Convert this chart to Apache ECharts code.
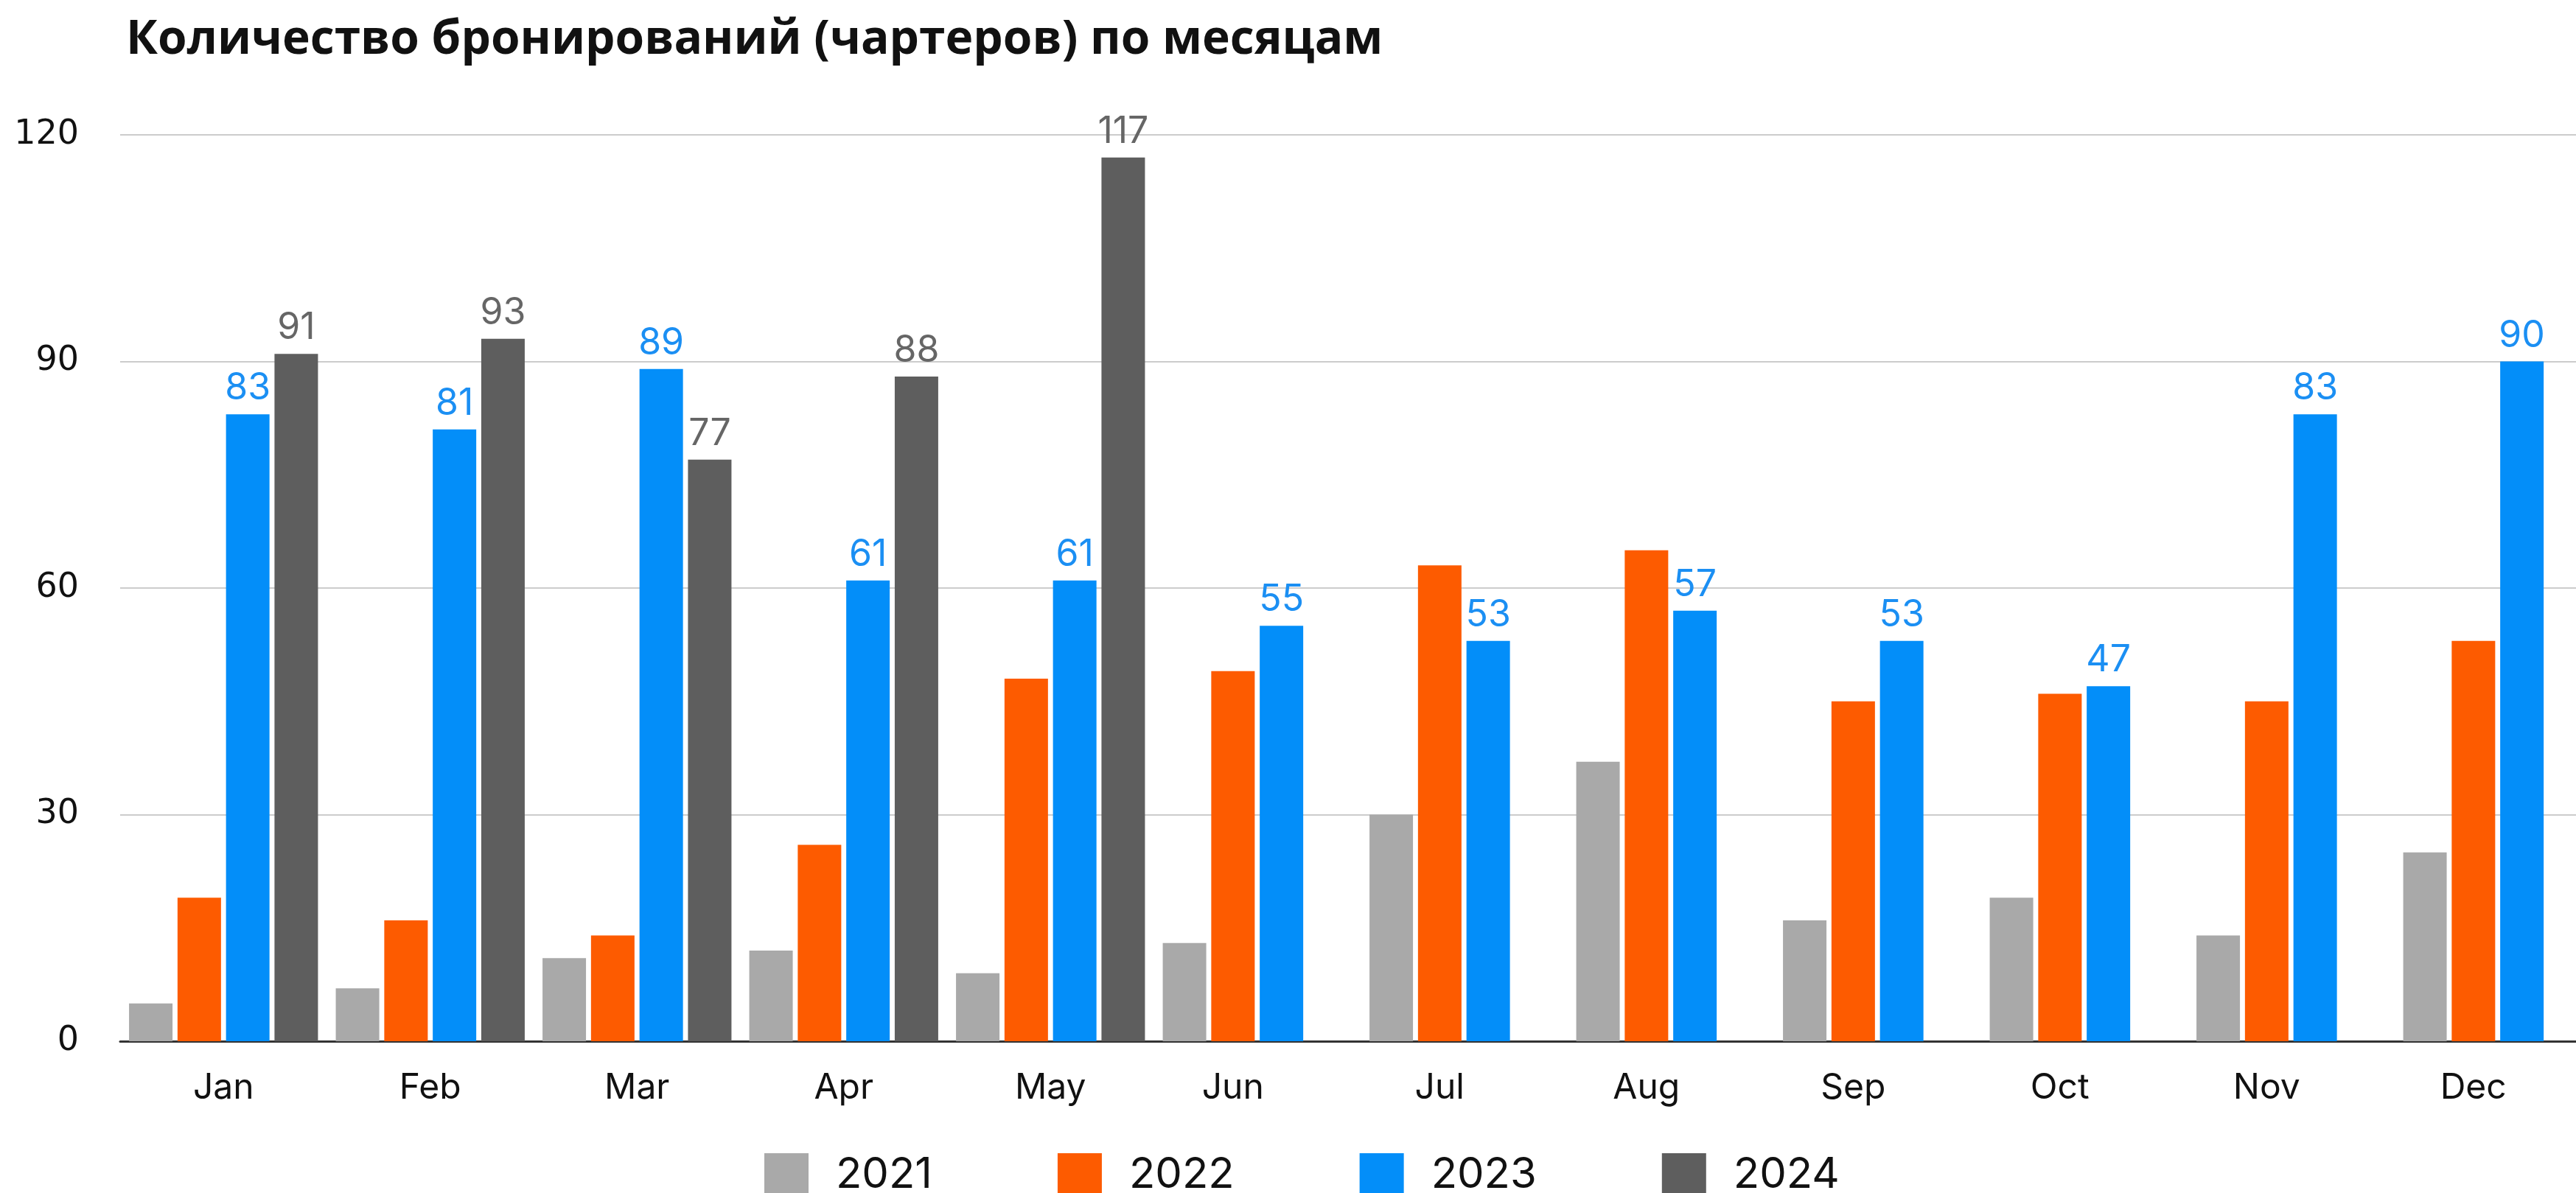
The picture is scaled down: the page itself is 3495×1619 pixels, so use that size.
<!DOCTYPE html>
<html>
<head>
<meta charset="utf-8">
<script src="https://cdn.jsdelivr.net/npm/echarts@6/dist/echarts.min.js"></script>
<style>
  html, body {margin: 0; padding: 0; background: #fff; overflow: hidden;}
  /* график шире окна: последняя (пустая) ячейка Dec обрезается справа, как в оригинале */
  #chart {width: 3529px; height: 1619px;}
</style>
</head>
<body>
<div id="chart"></div>
<script>
// данные по месяцам
const months = ['Jan', 'Feb', 'Mar', 'Apr', 'May', 'Jun', 'Jul', 'Aug', 'Sep', 'Oct', 'Nov', 'Dec'];
const years = ['2021', '2022', '2023', '2024'];
const y2021 = [5, 7, 11, 12, 9, 13, 30, 37, 16, 19, 14, 25];
const y2022 = [19, 16, 14, 26, 48, 49, 63, 65, 45, 46, 45, 53];
const y2023 = [83, 81, 89, 61, 61, 55, 53, 57, 53, 47, 83, 90];
const y2024 = [91, 93, 77, 88, 117];
const yTicks = [0, 30, 60, 90, 120];

const colors = ['#a9a9a9', '#fd5b00', '#038ef9', '#5e5e5e'];
const labelColors = [null, null, '#1b8ff3', '#666666'];
const allYears = [y2021, y2022, y2023, y2024];

// подпись месяца под видимыми столбцами (если 2024 нет - сдвиг на полслота влево)
const has2024 = months.map((m, i) => y2024[i] != null);

let series = allYears.map((arr, idx) => ({
  name: years[idx],
  type: 'bar',
  data: arr,
  barWidth: 59,
  barGap: '11.5%',
  itemStyle: {color: colors[idx]},
  label: {
    show: labelColors[idx] != null,
    position: 'top',
    distance: 10,
    color: labelColors[idx],
    fontFamily: 'Inter',
    fontSize: 50
  }
}));

let myChart = echarts.init(document.getElementById('chart'));
myChart.setOption({
  animation: false,
  backgroundColor: '#ffffff',
  title: {
    text: 'Количество бронирований (чартеров) по месяцам',
    left: 166,
    top: 18,
    textStyle: {
      fontFamily: 'Open Sans',
      fontWeight: 'bold',
      fontSize: 64,
      color: '#111111'
    }
  },
  legend: {
    data: years,
    left: 1032,
    top: 1560,
    itemWidth: 60,
    itemHeight: 60,
    itemGap: 170,
    icon: 'rect',
    textStyle: {
      fontFamily: 'Inter',
      fontSize: 58,
      color: '#111111',
      padding: [0, 0, 0, 32]
    }
  },
  grid: {
    left: 163,
    right: 0,
    top: 183,
    bottom: 206,
    containLabel: false
  },
  xAxis: {
    type: 'category',
    data: months,
    axisTick: {show: false},
    axisLine: {lineStyle: {color: '#333333', width: 3}},
    axisLabel: {
      margin: 40,
      fontFamily: 'Inter',
      fontSize: 48,
      color: '#111111',
      formatter: function (v, i) {
        return has2024[i] ? v : '{s|' + v + '}';
      },
      rich: {
        s: {padding: [0, 66, 0, 0]}
      }
    }
  },
  yAxis: {
    type: 'value',
    min: yTicks[0],
    max: yTicks[yTicks.length - 1],
    interval: 30,
    axisLine: {show: false},
    axisTick: {show: false},
    splitLine: {lineStyle: {color: '#cccccc', width: 2}},
    axisLabel: {
      margin: 56,
      fontFamily: 'DejaVu Sans',
      fontSize: 46,
      color: '#111111'
    }
  },
  series: series
});
</script>
</body>
</html>
